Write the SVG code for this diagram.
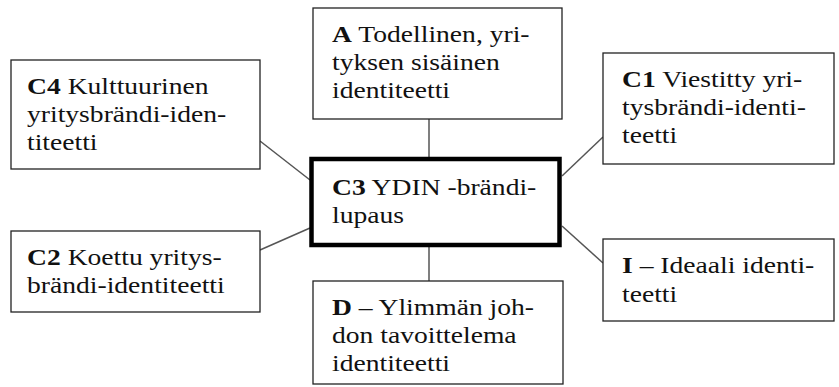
<svg xmlns="http://www.w3.org/2000/svg" width="839" height="387" viewBox="0 0 839 387">
  <style>
    .box { fill: #ffffff; stroke: #222222; stroke-width: 1.3; }
    .core { fill: #ffffff; stroke: #000000; stroke-width: 4.5; }
    .link { stroke: #555555; stroke-width: 1.5; fill: none; }
    .label { font-family: "Liberation Serif", "Times New Roman", serif; font-size: 23px; fill: #111111; }
    .b { font-weight: bold; }
  </style>
  <rect width="839" height="387" fill="#ffffff"/>

  <!-- connectors from the central brand promise to each identity -->
  <g id="connectors">
    <line class="link" x1="429" y1="119" x2="429" y2="157"/>
    <line class="link" x1="429" y1="245" x2="429" y2="281"/>
    <line class="link" x1="260" y1="141" x2="310" y2="180"/>
    <line class="link" x1="260" y1="250" x2="310" y2="228"/>
    <line class="link" x1="562" y1="176" x2="603" y2="137"/>
    <line class="link" x1="562" y1="226" x2="603" y2="263"/>
  </g>

  <g id="node-a">
    <rect class="box" x="313" y="8" width="249" height="111"/>
    <text class="label" transform="translate(332 0) scale(1.2 1)">
      <tspan x="0" y="42"><tspan class="b">A</tspan> Todellinen, yri-</tspan>
      <tspan x="0" y="70">tyksen sisäinen</tspan>
      <tspan x="0" y="98">identiteetti</tspan>
    </text>
  </g>

  <g id="node-c4">
    <rect class="box" x="11" y="60" width="249" height="109"/>
    <text class="label" transform="translate(27 0) scale(1.2 1)">
      <tspan x="0" y="94"><tspan class="b">C4</tspan> Kulttuurinen</tspan>
      <tspan x="0" y="122">yritysbrändi-iden-</tspan>
      <tspan x="0" y="150">titeetti</tspan>
    </text>
  </g>

  <g id="node-c1">
    <rect class="box" x="603" y="53" width="231" height="111"/>
    <text class="label" transform="translate(622 0) scale(1.2 1)">
      <tspan x="0" y="87"><tspan class="b">C1</tspan> Viestitty yri-</tspan>
      <tspan x="0" y="115">tysbrändi-identi-</tspan>
      <tspan x="0" y="143">teetti</tspan>
    </text>
  </g>

  <g id="node-c3">
    <rect class="core" x="311.5" y="159" width="248" height="86"/>
    <text class="label" transform="translate(332 0) scale(1.2 1)">
      <tspan x="0" y="195"><tspan class="b">C3</tspan> YDIN -brändi-</tspan>
      <tspan x="0" y="223">lupaus</tspan>
    </text>
  </g>

  <g id="node-c2">
    <rect class="box" x="11" y="231" width="249" height="81"/>
    <text class="label" transform="translate(27 0) scale(1.2 1)">
      <tspan x="0" y="265"><tspan class="b">C2</tspan> Koettu yritys-</tspan>
      <tspan x="0" y="293">brändi-identiteetti</tspan>
    </text>
  </g>

  <g id="node-i">
    <rect class="box" x="603" y="239" width="231" height="82"/>
    <text class="label" transform="translate(622 0) scale(1.2 1)">
      <tspan x="0" y="273"><tspan class="b">I</tspan> – Ideaali identi-</tspan>
      <tspan x="0" y="302">teetti</tspan>
    </text>
  </g>

  <g id="node-d">
    <rect class="box" x="313" y="281" width="250" height="103"/>
    <text class="label" transform="translate(332 0) scale(1.2 1)">
      <tspan x="0" y="315"><tspan class="b">D</tspan> – Ylimmän joh-</tspan>
      <tspan x="0" y="343">don tavoittelema</tspan>
      <tspan x="0" y="371">identiteetti</tspan>
    </text>
  </g>
</svg>
